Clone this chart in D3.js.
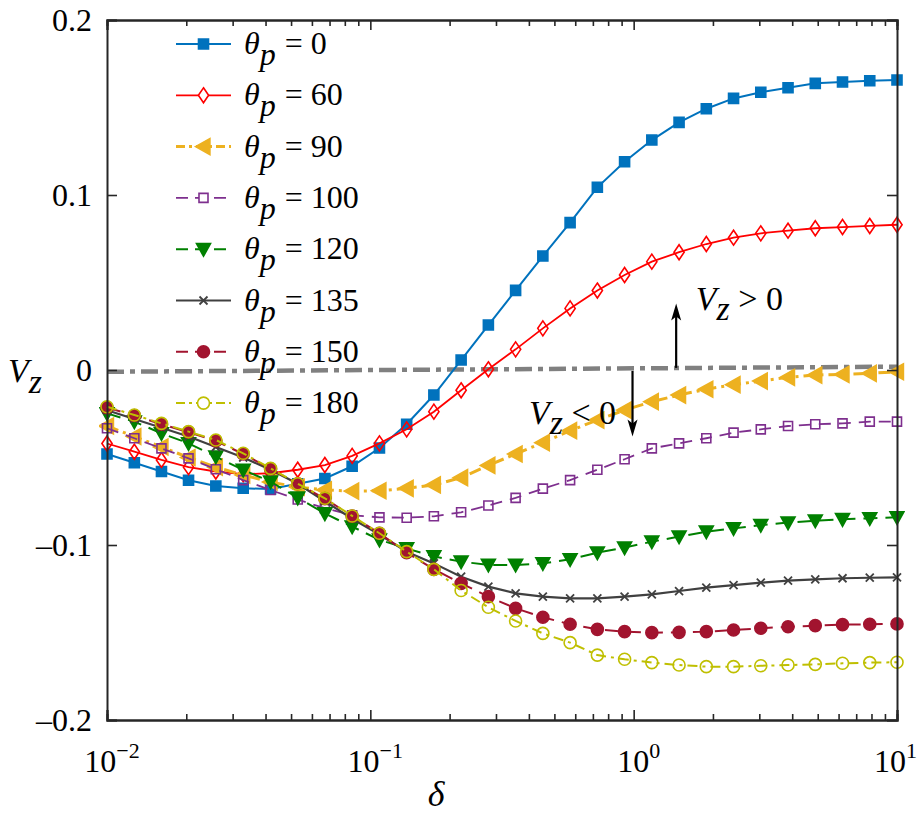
<!DOCTYPE html>
<html>
<head>
<meta charset="utf-8">
<script src="https://cdn.jsdelivr.net/npm/d3@7"></script>
<style>
  body { margin: 0; background: #fff; }
</style>
</head>
<body>
<script>
// delta sample points (log spaced)
var delta = [0.01, 0.0127, 0.0161, 0.0204, 0.0259, 0.0329, 0.0418, 0.0530, 0.0672, 0.0853,
  0.1083, 0.1374, 0.1743, 0.2212, 0.2807, 0.3562, 0.4520, 0.5736, 0.7279, 0.9237,
  1.1721, 1.4874, 1.8874, 2.3950, 3.0392, 3.8566, 4.8939, 6.2102, 7.8805, 10];

var vz0 = [-0.048, -0.053, -0.058, -0.063, -0.0663, -0.0676, -0.068, -0.065, -0.062, -0.055,
  -0.0446, -0.031, -0.0143, 0.0057, 0.0257, 0.0455, 0.0651, 0.0842, 0.1044, 0.119,
  0.1314, 0.1415, 0.1493, 0.1552, 0.1587, 0.1613, 0.1638, 0.1646, 0.1653, 0.1657];
var vz60 = [-0.042, -0.0467, -0.0514, -0.0555, -0.058, -0.0595, -0.059, -0.057, -0.0543, -0.0491,
  -0.0419, -0.0339, -0.0238, -0.0116, 0.0004, 0.0118, 0.0238, 0.0352, 0.0454, 0.0543,
  0.0619, 0.0673, 0.072, 0.0756, 0.0781, 0.0796, 0.081, 0.0817, 0.0823, 0.083];
var vz90 = [-0.032, -0.038, -0.044, -0.050, -0.0555, -0.060, -0.064, -0.067, -0.0685, -0.0692,
  -0.069, -0.0676, -0.0657, -0.0615, -0.0545, -0.048, -0.0415, -0.0347, -0.0286, -0.0229,
  -0.0181, -0.0143, -0.011, -0.0084, -0.0063, -0.0042, -0.0029, -0.0025, -0.0019, -0.001];
var vz100 = [-0.0333, -0.039, -0.0448, -0.0505, -0.0567, -0.0629, -0.0686, -0.074, -0.079, -0.083,
  -0.0842, -0.0844, -0.0836, -0.0813, -0.0774, -0.0731, -0.0678, -0.0629, -0.057, -0.051,
  -0.0448, -0.0419, -0.039, -0.0358, -0.0339, -0.032, -0.031, -0.0305, -0.0295, -0.0295];
var vz120 = [-0.0248, -0.0295, -0.0362, -0.0419, -0.0495, -0.0571, -0.0638, -0.073, -0.082, -0.0895,
  -0.097, -0.102, -0.1065, -0.1095, -0.1114, -0.1114, -0.1105, -0.1082, -0.1044, -0.1015,
  -0.0981, -0.0952, -0.0924, -0.0905, -0.0886, -0.0872, -0.0861, -0.0853, -0.0848, -0.0842];
var vz135 = [-0.023, -0.028, -0.033, -0.038, -0.044, -0.050, -0.057, -0.065, -0.075, -0.085,
  -0.094, -0.1038, -0.1105, -0.1181, -0.1238, -0.1276, -0.1295, -0.1305, -0.1305, -0.1295,
  -0.1282, -0.1263, -0.1244, -0.1229, -0.1215, -0.1204, -0.1196, -0.119, -0.1187, -0.1185];
var vz150 = [-0.0215, -0.026, -0.031, -0.0355, -0.0405, -0.048, -0.0565, -0.065, -0.0735, -0.0835,
  -0.0933, -0.1044, -0.1139, -0.1219, -0.1295, -0.1362, -0.1413, -0.1453, -0.1482, -0.1495,
  -0.1501, -0.1499, -0.1495, -0.1486, -0.1476, -0.1467, -0.1461, -0.1455, -0.1453, -0.1451];
var vz180 = [-0.021, -0.0257, -0.0305, -0.0352, -0.040, -0.0476, -0.0562, -0.065, -0.0733, -0.0834,
  -0.0933, -0.1038, -0.1139, -0.126, -0.1356, -0.1434, -0.1505, -0.1558, -0.1629, -0.1653,
  -0.1672, -0.1686, -0.1695, -0.1695, -0.169, -0.1686, -0.1682, -0.1676, -0.1672, -0.167];

// V_z = 0 reference line (two end points)
var zeroDelta = [0.01, 10];
var zeroVz = [-0.001, 0.0019];

var legendAngles = ['0', '60', '90', '100', '120', '135', '150', '180'];
var yTicks = [-0.2, -0.1, 0, 0.1, 0.2];
var yTickLabels = ['\u20130.2', '\u20130.1', '0', '0.1', '0.2'];
var xTicks = [0.01, 0.1, 1, 10];
var xTickExps = ['\u22122', '\u22121', '0', '1'];

var W = 919, H = 815;
var m = {left: 107, right: 22, top: 20, bottom: 95};
var pw = W - m.left - m.right, ph = H - m.top - m.bottom;

var x = d3.scaleLog().domain([0.01, 10]).range([0, pw]);
var y = d3.scaleLinear().domain([-0.2, 0.2]).range([ph, 0]);

var svg = d3.select('body').append('svg')
  .attr('width', W).attr('height', H);

var g = svg.append('g').attr('transform', 'translate(' + m.left + ',' + m.top + ')');

var clip = g.append('clipPath').attr('id', 'clip');
clip.append('rect').attr('x', -8).attr('y', -8).attr('width', pw + 16).attr('height', ph + 16);

// marker shapes
function markerPath(type, s) {
  switch (type) {
    case 'square': return 'M' + (-s) + ',' + (-s) + 'h' + 2 * s + 'v' + 2 * s + 'h' + (-2 * s) + 'Z';
    case 'diamond': return 'M0,' + (-s * 1.25) + 'L' + s * 0.85 + ',0L0,' + s * 1.25 + 'L' + (-s * 0.85) + ',0Z';
    case 'left': return 'M' + (-s) + ',0L' + s * 0.8 + ',' + (-s) + 'L' + s * 0.8 + ',' + s + 'Z';
    case 'down': return 'M' + (-s) + ',' + (-s * 0.8) + 'L' + s + ',' + (-s * 0.8) + 'L0,' + s + 'Z';
    case 'x': return 'M' + (-s) + ',' + (-s) + 'L' + s + ',' + s + 'M' + (-s) + ',' + s + 'L' + s + ',' + (-s);
    case 'circle': return d3.symbol(d3.symbolCircle, Math.PI * s * s)();
  }
}

var series = [
  {v: vz0, color: '#0072BD', dash: null, w: 2, marker: 'square', size: 5, fill: true},
  {v: vz60, color: '#FF0000', dash: null, w: 1.8, marker: 'diamond', size: 6, fill: false},
  {v: vz90, color: '#EDB120', dash: '12,5,3,5', w: 3, marker: 'left', size: 8, fill: true},
  {v: vz100, color: '#7E2F8E', dash: '12,8', w: 1.8, marker: 'square', size: 4.5, fill: false},
  {v: vz120, color: '#008000', dash: '14,8', w: 2, marker: 'down', size: 7, fill: true},
  {v: vz135, color: '#404040', dash: null, w: 2.2, marker: 'x', size: 4, fill: false},
  {v: vz150, color: '#A2142F', dash: '14,8', w: 2, marker: 'circle', size: 6, fill: true},
  {v: vz180, color: '#BFBF00', dash: '10,5,3,5', w: 2, marker: 'circle', size: 6, fill: false}
];

var line = d3.line().x(function(d){ return x(d[0]); }).y(function(d){ return y(d[1]); });

// zero line
var zeroPts = zeroDelta.map(function(d, i){ return [d, zeroVz[i]]; });
g.append('path').attr('d', line(zeroPts))
  .attr('fill', 'none').attr('stroke', '#808080').attr('stroke-width', 4.5)
  .attr('stroke-dasharray', '17,6,5,6');

var plot = g.append('g').attr('clip-path', 'url(#clip)');

series.forEach(function(s){
  var pts = delta.map(function(d, i){ return [d, s.v[i]]; });
  plot.append('path').attr('d', line(pts))
    .attr('fill', 'none').attr('stroke', s.color).attr('stroke-width', s.w)
    .attr('stroke-dasharray', s.dash);
  plot.selectAll(null).data(pts).enter().append('path')
    .attr('transform', function(d){ return 'translate(' + x(d[0]) + ',' + y(d[1]) + ')'; })
    .attr('d', markerPath(s.marker, s.size))
    .attr('fill', s.fill ? s.color : 'none')
    .attr('stroke', s.color).attr('stroke-width', s.marker === 'x' ? 1.8 : 1.6);
});

// annotations
function arrow(xv, y0, y1) {
  var px = x(xv), a = y(y0), b = y(y1);
  var dir = b < a ? 1 : -1;
  g.append('line').attr('x1', px).attr('x2', px).attr('y1', a).attr('y2', b + dir * 12)
    .attr('stroke', '#000').attr('stroke-width', 2.2);
  g.append('path').attr('d', 'M' + (px - 5) + ',' + (b + dir * 17) + 'L' + px + ',' + b + 'L' + (px + 5) + ',' + (b + dir * 17) + 'L' + px + ',' + (b + dir * 13) + 'Z')
    .attr('fill', '#000');
}
arrow(1.45, 0.0012, 0.038);
arrow(0.99, -0.0005, -0.038);

function vzText(px, py, rest) {
  var t = g.append('text').attr('x', px).attr('y', py).attr('font-size', 34);
  t.append('tspan').text('V').attr('font-style', 'italic');
  t.append('tspan').text('z').attr('font-style', 'italic').attr('dy', 10);
  t.append('tspan').text(rest).attr('dy', -10);
}
vzText(x(1.72), y(0.0345), ' > 0');
vzText(x(0.40), y(-0.031), ' < 0');

// axes: frame and ticks (inward)
var frame = g.append('g');
frame.append('g').attr('transform', 'translate(0,' + ph + ')')
  .call(d3.axisBottom(x).tickValues(xTicks).tickSize(-10).tickFormat(''));
frame.append('g')
  .call(d3.axisTop(x).tickValues(xTicks).tickSize(-10).tickFormat(''));
var minors = [];
[0.01, 0.1, 1].forEach(function(b){ for (var k = 2; k <= 9; k++) minors.push(b * k); });
frame.append('g').attr('transform', 'translate(0,' + ph + ')')
  .call(d3.axisBottom(x).tickValues(minors).tickSize(-6).tickFormat(''));
frame.append('g')
  .call(d3.axisTop(x).tickValues(minors).tickSize(-6).tickFormat(''));
frame.append('g')
  .call(d3.axisLeft(y).tickValues(yTicks).tickSize(-10).tickFormat(''));
frame.append('g').attr('transform', 'translate(' + pw + ',0)')
  .call(d3.axisRight(y).tickValues(yTicks).tickSize(-10).tickFormat(''));
frame.selectAll('.domain').attr('stroke', '#262626').attr('stroke-width', 2);
frame.selectAll('.tick line').attr('stroke', '#262626').attr('stroke-width', 1.6);

// y tick labels
g.selectAll('.ylab').data(yTicks).enter().append('text')
  .attr('x', -15).attr('y', function(d){ return y(d) + 11; })
  .attr('text-anchor', 'end').attr('font-size', 32)
  .text(function(d, i){ return yTickLabels[i]; });

// x tick labels
xTicks.forEach(function(v, i){
  var last = i === xTicks.length - 1;
  var t = g.append('text').attr('x', last ? pw + 20 : x(v) + 5).attr('y', ph + 52)
    .attr('text-anchor', last ? 'end' : 'middle').attr('font-size', 32);
  t.append('tspan').text('10');
  t.append('tspan').text(xTickExps[i]).attr('font-size', 22).attr('dy', -14);
});

// axis titles
svg.append('text').attr('x', m.left + x(0.1778)).attr('y', 806)
  .attr('text-anchor', 'middle').attr('font-size', 36).attr('font-style', 'italic').text('\u03b4');
var yl = svg.append('text').attr('x', 8).attr('y', 382).attr('font-size', 34);
yl.append('tspan').text('V').attr('font-style', 'italic');
yl.append('tspan').text('z').attr('font-style', 'italic').attr('dy', 11);

// legend
var lg = g.append('g').attr('transform', 'translate(69,24)');
series.forEach(function(s, i){
  var row = lg.append('g').attr('transform', 'translate(0,' + (i * 51.3) + ')');
  row.append('line').attr('x1', 0).attr('x2', 55).attr('y1', 0).attr('y2', 0)
    .attr('stroke', s.color).attr('stroke-width', s.w)
    .attr('stroke-dasharray', s.dash ? (s.marker === 'left' || s.marker === 'circle' && !s.fill ? '9,4,3,4' : '12,7') : null);
  row.append('path').attr('transform', 'translate(27.5,0)')
    .attr('d', markerPath(s.marker, s.size))
    .attr('fill', s.fill ? s.color : (s.marker === 'x' ? 'none' : '#fff'))
    .attr('stroke', s.color).attr('stroke-width', s.marker === 'x' ? 1.8 : 1.6);
  var t = row.append('text').attr('x', 68).attr('y', 10).attr('font-size', 32);
  t.append('tspan').text('\u03b8').attr('font-style', 'italic');
  t.append('tspan').text('p').attr('font-style', 'italic').attr('dy', 11).attr('dx', 0);
  t.append('tspan').text(' = ' + legendAngles[i]).attr('dy', -11).attr('dx', 1);
});

// every text in Times-like serif
svg.selectAll('text').attr('font-family', 'Liberation Serif').style('fill', '#000');
svg.selectAll('tspan').attr('font-family', 'Liberation Serif');
</script>
</body>
</html>
